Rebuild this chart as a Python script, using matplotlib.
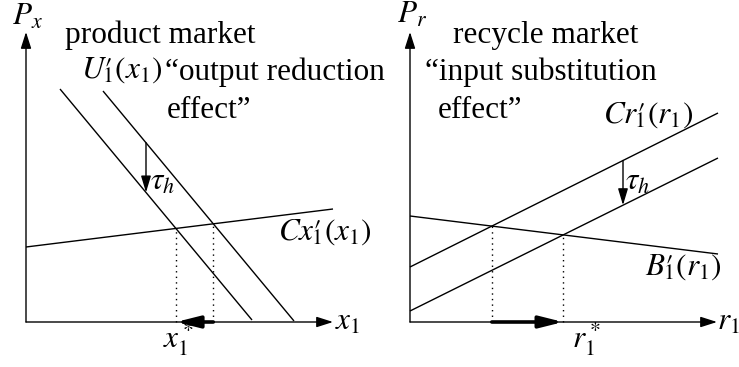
import numpy as np
import matplotlib
matplotlib.use("Agg")
import matplotlib.pyplot as plt

plt.rcParams['font.family'] = ['Liberation Serif', 'DejaVu Serif']
plt.rcParams['mathtext.fontset'] = 'stix'

# ---- data (schematic, panel units: origin at axes crossing) ----
# product market
demand_inner = [(34, 233), (226, 2)]      # after tax
demand_outer = [(77, 231), (268, 1)]      # U'_1(x_1)
cost_x = [(0, 75), (307, 113)]            # Cx'_1(x_1)
tau_x_pos = 120
# recycle market
supply_upper = [(0, 55), (308, 209)]      # Cr'_1(r_1)
supply_lower = [(0, 11), (308, 164)]      # after subsidy
benefit_r = [(0, 106), (308, 68)]         # B'_1(r_1)
tau_r_pos = 213

axis_len_x = 307
axis_len_y = 290

FS = 22.5


def line_coef(seg):
    (x0, y0), (x1, y1) = seg
    m = (y1 - y0) / (x1 - x0)
    return m, y0 - m * x0


def intersect(a, b):
    m1, c1 = line_coef(a)
    m2, c2 = line_coef(b)
    x = (c2 - c1) / (m1 - m2)
    return x, m1 * x + c1


def yat(seg, x):
    m, c = line_coef(seg)
    return m * x + c


def arrow(ax, start, end, lw=1.0, hl=1.0, hw=0.3, ms=10):
    ax.annotate('', xy=end, xytext=start,
                arrowprops=dict(arrowstyle=f'-|>,head_length={hl},head_width={hw}',
                                lw=lw, color='black', shrinkA=0, shrinkB=0,
                                mutation_scale=ms))


def draw_axes(ax):
    arrow(ax, (0, 0), (axis_len_x, 0), lw=1.0, hl=1.0, hw=0.32, ms=10)
    arrow(ax, (0, 0), (0, axis_len_y), lw=1.0, hl=1.0, hw=0.32, ms=10)


W, H = 739, 367
fig = plt.figure(figsize=(W / 100, H / 100), dpi=100)
ax1 = fig.add_axes([0, 0, 370 / W, 1])
ax2 = fig.add_axes([370 / W, 0, 369 / W, 1])
ax1.set_xlim(-26, 344)
ax1.set_ylim(-45, 322)
ax2.set_xlim(-40, 329)
ax2.set_ylim(-45, 322)
for ax in (ax1, ax2):
    ax.axis('off')

# ---------- left panel ----------
ax = ax1
draw_axes(ax)
for seg in (demand_inner, demand_outer, cost_x):
    xs, ys = zip(*seg)
    ax.plot(xs, ys, color='black', lw=1.0, solid_capstyle='butt')
pA = intersect(demand_inner, cost_x)
pB = intersect(demand_outer, cost_x)
for p in (pA, pB):
    ax.plot([p[0], p[0]], [0, p[1]], color='black', lw=1.0, ls=(0, (1, 3)))
arrow(ax, (pB[0], 0), (pA[0], 0), lw=2.6, hl=1.4, hw=0.35, ms=10)
arrow(ax, (tau_x_pos, yat(demand_outer, tau_x_pos)),
      (tau_x_pos, yat(demand_inner, tau_x_pos)), lw=1.0, hl=1.0, hw=0.3, ms=10)

t = dict(fontsize=FS, ha='left', va='baseline', clip_on=False)
ax.text(-14, 297, r'$P_x$', **t)
ax.text(39, 279, 'product market', **t)
ax.text(55, 244, r"$U\prime_{\!\!\!\!1}(x_1)$", **t)
ax.text(139, 242, '\u201coutput reduction', **t)
ax.text(141, 204, 'effect\u201d', **t)
ax.text(252, 82, r"$Cx\prime_{\!\!\!\!1}(x_1)$", **t)
ax.text(124, 132, r'$\tau_h$', **t)
ax.text(137, -26, r'$x_1^*$', **t)
ax.text(309, -8, r'$x_1$', **t)

# ---------- right panel ----------
ax = ax2
draw_axes(ax)
for seg in (supply_upper, supply_lower, benefit_r):
    xs, ys = zip(*seg)
    ax.plot(xs, ys, color='black', lw=1.0, solid_capstyle='butt')
qA = intersect(supply_upper, benefit_r)
qB = intersect(supply_lower, benefit_r)
for p in (qA, qB):
    ax.plot([p[0], p[0]], [0, p[1]], color='black', lw=1.0, ls=(0, (1, 3)))
arrow(ax, (qA[0], 0), (qB[0], 0), lw=2.6, hl=1.4, hw=0.35, ms=10)
arrow(ax, (tau_r_pos, yat(supply_upper, tau_r_pos)),
      (tau_r_pos, yat(supply_lower, tau_r_pos)), lw=1.0, hl=1.0, hw=0.3, ms=10)

ax.text(-13, 299, r'$P_r$', **t)
ax.text(43, 279, 'recycle market', **t)
ax.text(15, 242, '\u201cinput substitution', **t)
ax.text(28, 204, 'effect\u201d', **t)
ax.text(193, 199, r"$Cr\prime_{\!\!\!\!1}(r_1)$", **t)
ax.text(215, 132, r'$\tau_h$', **t)
ax.text(235, 47, r"$B\prime_{\!\!\!\!1}(r_1)$", **t)
ax.text(162, -26, r'$r_1^*$', **t)
ax.text(307, -8, r'$r_1$', **t)

fig.savefig('out.png', dpi=100)
